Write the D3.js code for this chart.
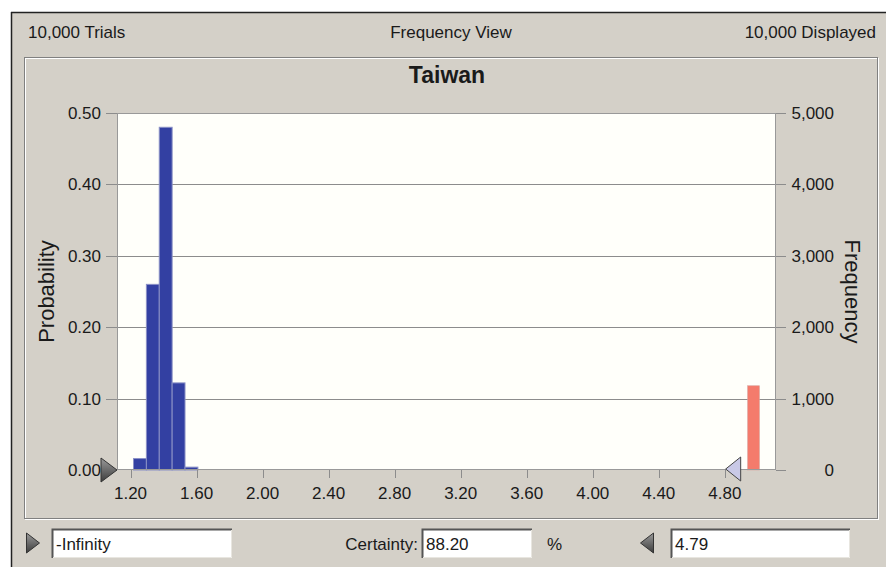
<!DOCTYPE html>
<html>
<head>
<meta charset="utf-8">
<script src="https://cdn.jsdelivr.net/npm/d3@7"></script>
<style>
body{margin:0;background:#fff;}
svg text{font-family:"Liberation Sans",Arial,sans-serif;fill:#1a1a1a;}
</style>
</head>
<body>
<svg id="chart" width="886" height="567"></svg>
<script>
// histogram values (Crystal Ball frequency view)
var binWidth = 0.078;
var inBinStart = [1.218, 1.296, 1.374, 1.452, 1.530];
var inProb = [0.016, 0.260, 0.480, 0.122, 0.004];
var tailBinStart = [4.938];
var tailProb = [0.118];
var xTicks = [1.20, 1.60, 2.00, 2.40, 2.80, 3.20, 3.60, 4.00, 4.40, 4.80];
var probTicks = [0, 0.10, 0.20, 0.30, 0.40, 0.50];
var freqTicks = [0, 1000, 2000, 3000, 4000, 5000];
var headerTexts = ["10,000 Trials", "Frequency View", "10,000 Displayed"];
var chartTitle = "Taiwan";
var lowerValue = "-Infinity", certainty = "88.20", upperValue = "4.79";

var svg = d3.select("#chart");
var L = 117, R = 776, T = 113, B = 470;

var x = d3.scaleLinear().domain([1.118, 5.11]).range([L, R]);
var y = d3.scaleLinear().domain([0, 0.5]).range([B, T]);
var yF = d3.scaleLinear().domain([0, 5000]).range([B, T]);

// window background + frame
svg.append("rect").attr("x", 11).attr("y", 12).attr("width", 886).attr("height", 567).attr("fill", "#d4d0c8");
svg.append("line").attr("x1", 11).attr("x2", 886).attr("y1", 12.5).attr("y2", 12.5).attr("stroke", "#222").attr("stroke-width", 1.5);
svg.append("line").attr("x1", 11.5).attr("x2", 11.5).attr("y1", 12).attr("y2", 567).attr("stroke", "#222").attr("stroke-width", 1.5);

// header
svg.append("text").attr("x", 28).attr("y", 38).attr("font-size", 17).text(headerTexts[0]);
svg.append("text").attr("x", 451).attr("y", 38).attr("font-size", 17).attr("text-anchor", "middle").text(headerTexts[1]);
svg.append("text").attr("x", 876).attr("y", 38).attr("font-size", 17).attr("text-anchor", "end").text(headerTexts[2]);

// inner etched box
svg.append("rect").attr("x", 25.5).attr("y", 58.5).attr("width", 853).attr("height", 461).attr("fill", "none").attr("stroke", "#fff");
svg.append("rect").attr("x", 24.5).attr("y", 57.5).attr("width", 853).attr("height", 461).attr("fill", "none").attr("stroke", "#808080");

svg.append("text").attr("x", 447).attr("y", 83).attr("font-size", 23).attr("font-weight", "bold")
  .attr("text-anchor", "middle").text(chartTitle);

// plot area
svg.append("rect").attr("x", L).attr("y", T).attr("width", R - L).attr("height", B - T).attr("fill", "#fffffa");

// gridlines
svg.append("g").selectAll("line").data(probTicks.filter(function(d){return d > 0 && d < 0.5;}))
  .enter().append("line")
  .attr("x1", L).attr("x2", R).attr("y1", function(d){return Math.round(y(d)) + 0.5;}).attr("y2", function(d){return Math.round(y(d)) + 0.5;})
  .attr("stroke", "#8c8c8c");

// bars
svg.append("g").selectAll("rect").data(inBinStart).enter().append("rect")
  .attr("x", function(d){return x(d);})
  .attr("width", function(d){return x(d + binWidth) - x(d);})
  .attr("y", function(d, i){return y(inProb[i]);})
  .attr("height", function(d, i){return B - y(inProb[i]);})
  .attr("fill", "#3340a2").attr("stroke", "#8a90c6").attr("stroke-width", 1);

svg.append("g").selectAll("rect").data(tailBinStart).enter().append("rect")
  .attr("x", function(d){return x(d);})
  .attr("width", function(d){return x(d + binWidth) - x(d) - 1;})
  .attr("y", function(d, i){return y(tailProb[i]);})
  .attr("height", function(d, i){return B - y(tailProb[i]);})
  .attr("fill", "#f47b6c").attr("stroke", "#d9a6a0").attr("stroke-width", 0.6);

// plot frame
svg.append("rect").attr("x", L + 0.5).attr("y", T + 0.5).attr("width", R - L - 1).attr("height", B - T - 1)
  .attr("fill", "none").attr("stroke", "#999");

// left axis
var gl = svg.append("g");
gl.selectAll("line").data(probTicks).enter().append("line")
  .attr("x1", L - 11).attr("x2", L).attr("y1", function(d){return Math.round(y(d)) + 0.5;}).attr("y2", function(d){return Math.round(y(d)) + 0.5;})
  .attr("stroke", "#8c8c8c");
gl.selectAll("text").data(probTicks).enter().append("text")
  .attr("x", 101).attr("y", function(d){return y(d) + 6;}).attr("font-size", 17).attr("text-anchor", "end")
  .text(d3.format(".2f"));

// right axis
var gr = svg.append("g");
gr.selectAll("line").data(freqTicks).enter().append("line")
  .attr("x1", R).attr("x2", R + 10).attr("y1", function(d){return Math.round(yF(d)) + 0.5;}).attr("y2", function(d){return Math.round(yF(d)) + 0.5;})
  .attr("stroke", "#8c8c8c");
gr.selectAll("text").data(freqTicks).enter().append("text")
  .attr("x", 834).attr("y", function(d){return yF(d) + 6;}).attr("font-size", 17).attr("text-anchor", "end")
  .text(d3.format(",d"));

// bottom axis
var gb = svg.append("g");
gb.selectAll("line").data(xTicks).enter().append("line")
  .attr("x1", function(d){return Math.round(x(d)) + 0.5;}).attr("x2", function(d){return Math.round(x(d)) + 0.5;})
  .attr("y1", B).attr("y2", B + 8).attr("stroke", "#8c8c8c");
gb.selectAll("text").data(xTicks).enter().append("text")
  .attr("x", function(d){return x(d);}).attr("y", 499).attr("font-size", 17).attr("text-anchor", "middle")
  .text(d3.format(".2f"));

// axis titles
svg.append("text").attr("transform", "translate(54," + ((T + B) / 2) + ") rotate(-90)")
  .attr("font-size", 22).attr("text-anchor", "middle").text("Probability");
svg.append("text").attr("transform", "translate(845," + ((T + B) / 2) + ") rotate(90)")
  .attr("font-size", 22).attr("text-anchor", "middle").text("Frequency");

// grabbers on the axis
var lg = svg.append("defs").append("linearGradient").attr("id", "dark").attr("x1", 0).attr("x2", 0).attr("y1", 0).attr("y2", 1);
lg.append("stop").attr("offset", "0").attr("stop-color", "#9a9a9a");
lg.append("stop").attr("offset", "1").attr("stop-color", "#3c3c3c");
function tri(cx, cy, w, h, dir){
  return dir > 0
    ? "M" + (cx - w / 2) + "," + (cy - h / 2) + "L" + (cx + w / 2) + "," + cy + "L" + (cx - w / 2) + "," + (cy + h / 2) + "Z"
    : "M" + (cx + w / 2) + "," + (cy - h / 2) + "L" + (cx - w / 2) + "," + cy + "L" + (cx + w / 2) + "," + (cy + h / 2) + "Z";
}
svg.append("path").attr("d", tri(L - 8, B, 16, 24, 1)).attr("fill", "url(#dark)").attr("stroke", "#333");
svg.append("path").attr("d", tri(x(4.79) + 10, B - 1, 15, 24, -1)).attr("fill", "#c9c9e6").attr("stroke", "#444");

// bottom controls
function field(x0, w, txt){
  svg.append("rect").attr("x", x0).attr("y", 529).attr("width", w).attr("height", 29).attr("fill", "#fff");
  svg.append("path").attr("d", "M" + (x0 + 0.5) + "," + 558 + "V" + 529.5 + "H" + (x0 + w)).attr("fill", "none").attr("stroke", "#555").attr("stroke-width", 2);
  svg.append("path").attr("d", "M" + (x0 + 1) + "," + 557.5 + "H" + (x0 + w - 0.5) + "V" + 530).attr("fill", "none").attr("stroke", "#e8e6e0");
  svg.append("text").attr("x", x0 + 4).attr("y", 550).attr("font-size", 17).text(txt);
}
svg.append("path").attr("d", tri(33, 543, 13, 20, 1)).attr("fill", "url(#dark)").attr("stroke", "#333");
field(52, 180, lowerValue);
svg.append("text").attr("x", 418).attr("y", 550).attr("font-size", 17).attr("text-anchor", "end").text("Certainty:");
field(422, 110, certainty);
svg.append("text").attr("x", 547).attr("y", 550).attr("font-size", 17).text("%");
svg.append("path").attr("d", tri(647, 543, 13, 20, -1)).attr("fill", "url(#dark)").attr("stroke", "#333");
field(671, 179, upperValue);
</script>
</body>
</html>
